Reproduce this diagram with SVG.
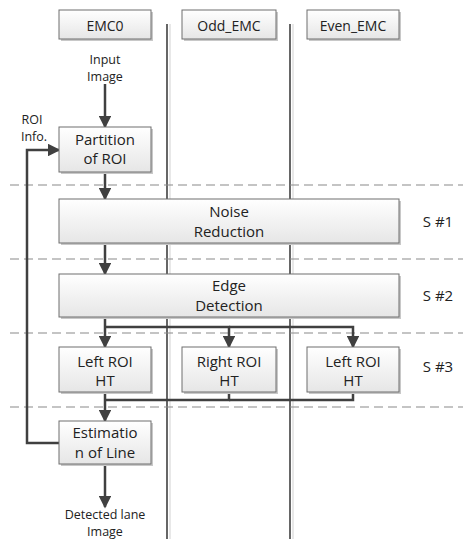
<svg xmlns="http://www.w3.org/2000/svg" width="463" height="539" viewBox="0 0 463 539">
<style>
text{font-family:"Open Sans","Liberation Sans",sans-serif;fill:#222;text-anchor:middle}
.h{font-size:14px}
.b{font-size:15px}
.s{font-size:12.5px}
.box{fill:url(#g);stroke:#6e6e6e;stroke-width:1}
.sh{fill:#c8c8c8}
.lane{stroke:#404040;stroke-width:1.6}
.lane2{stroke:#e0e0e0;stroke-width:1.5}
.dash{stroke:#8a8a8a;stroke-width:1.2;stroke-dasharray:9 5;fill:none}
.c{stroke:#404040;stroke-width:2.5;fill:none}
</style>
<defs>
<linearGradient id="g" x1="0" y1="0" x2="0" y2="1"><stop offset="0" stop-color="#ffffff"/><stop offset="1" stop-color="#e6e6e6"/></linearGradient>
<marker id="a" markerWidth="5" markerHeight="5" refX="4.4" refY="2.5" orient="auto" markerUnits="strokeWidth"><path d="M0,0 L5,2.5 L0,5 z" fill="#404040"/></marker>
</defs>
<g id="lanes">
<line class="lane2" x1="170" y1="24" x2="170" y2="539"/>
<line class="lane2" x1="293" y1="24" x2="293" y2="539"/>
<line class="lane" x1="167" y1="24" x2="167" y2="539"/>
<line class="lane" x1="290" y1="24" x2="290" y2="539"/>
</g>
<g id="stages">
<line class="dash" x1="10" y1="185" x2="463" y2="185"/>
<line class="dash" x1="10" y1="259" x2="463" y2="259"/>
<line class="dash" x1="10" y1="333" x2="463" y2="333"/>
<line class="dash" x1="10" y1="407" x2="463" y2="407"/>
<text class="b" x="438" y="227">S #1</text>
<text class="b" x="438" y="301">S #2</text>
<text class="b" x="438" y="372">S #3</text>
</g>
<g id="hdr-emc0"><rect class="sh" x="61" y="12" width="92" height="29"/><rect class="box" x="59" y="10" width="92" height="29"/><text class="h" x="105" y="31">EMC0</text></g>
<g id="hdr-odd"><rect class="sh" x="184" y="12" width="94" height="29"/><rect class="box" x="182" y="10" width="94" height="29"/><text class="h" x="229" y="31">Odd_EMC</text></g>
<g id="hdr-even"><rect class="sh" x="309" y="12" width="92" height="29"/><rect class="box" x="307" y="10" width="92" height="29"/><text class="h" x="353" y="31">Even_EMC</text></g>
<g id="connectors">
<line class="c" x1="105" y1="84" x2="105" y2="127" marker-end="url(#a)"/>
<line class="c" x1="105" y1="172" x2="105" y2="199" marker-end="url(#a)"/>
<line class="c" x1="105" y1="243" x2="105" y2="274" marker-end="url(#a)"/>
<line class="c" x1="105" y1="317" x2="105" y2="347" marker-end="url(#a)"/>
<polyline class="c" points="105,327 229,327 229,347" marker-end="url(#a)"/>
<polyline class="c" points="229,327 353,327 353,347" marker-end="url(#a)"/>
<polyline class="c" points="105,392 105,421" marker-end="url(#a)"/>
<polyline class="c" points="229,392 229,400 105,400"/>
<polyline class="c" points="353,392 353,400 229,400"/>
<line class="c" x1="105" y1="464" x2="105" y2="507" marker-end="url(#a)"/>
<polyline class="c" points="59,443 27,443 27,150 59,150" marker-end="url(#a)"/>
</g>
<g id="labels">
<text class="s" x="105" y="64">Input</text>
<text class="s" x="105" y="81">Image</text>
<text class="s" x="32" y="124">ROI</text>
<text class="s" x="34" y="141">Info.</text>
<text class="s" x="105" y="519">Detected lane</text>
<text class="s" x="105" y="536">Image</text>
</g>
<g id="partition"><rect class="sh" x="61" y="129" width="92" height="45"/><rect class="box" x="59" y="127" width="92" height="45"/><text class="b" x="105" y="145">Partition</text><text class="b" x="105" y="164">of ROI</text></g>
<g id="noise"><rect class="sh" x="61" y="201" width="340" height="44"/><rect class="box" x="59" y="199" width="340" height="44"/><text class="b" x="229" y="217">Noise</text><text class="b" x="229" y="237">Reduction</text></g>
<g id="edge"><rect class="sh" x="61" y="276" width="340" height="43"/><rect class="box" x="59" y="274" width="340" height="43"/><text class="b" x="229" y="291">Edge</text><text class="b" x="229" y="311">Detection</text></g>
<g id="left-ht"><rect class="sh" x="61" y="349" width="92" height="45"/><rect class="box" x="59" y="347" width="92" height="45"/><text class="b" x="105" y="367">Left ROI</text><text class="b" x="105" y="386">HT</text></g>
<g id="right-ht"><rect class="sh" x="184" y="349" width="94" height="45"/><rect class="box" x="182" y="347" width="94" height="45"/><text class="b" x="229" y="367">Right ROI</text><text class="b" x="229" y="386">HT</text></g>
<g id="left-ht2"><rect class="sh" x="309" y="349" width="92" height="45"/><rect class="box" x="307" y="347" width="92" height="45"/><text class="b" x="353" y="367">Left ROI</text><text class="b" x="353" y="386">HT</text></g>
<g id="estimation"><rect class="sh" x="61" y="423" width="92" height="43"/><rect class="box" x="59" y="421" width="92" height="43"/><text class="b" x="105" y="438">Estimatio</text><text class="b" x="105" y="458">n of Line</text></g>
</svg>
